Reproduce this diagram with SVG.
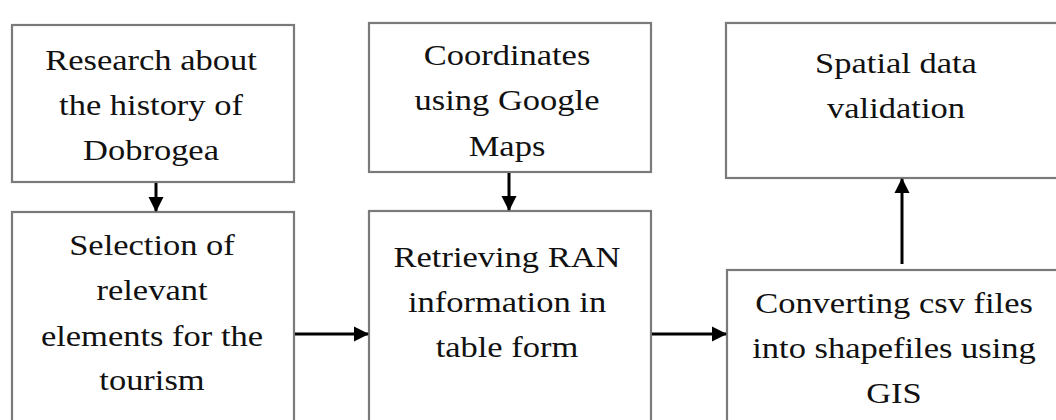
<svg xmlns="http://www.w3.org/2000/svg" width="1056" height="420" viewBox="0 0 1056 420">
<style>
.box{fill:#fff;stroke:#7a7a7a;stroke-width:2.2}
.lbl{font-family:'Liberation Serif', Tinos, 'Times New Roman', Times, 'DejaVu Serif', serif;font-size:30px;fill:#111;text-anchor:middle}
.conn{stroke:#000;stroke-width:3;fill:none}
</style>
<defs>
<marker id="ah" markerUnits="userSpaceOnUse" markerWidth="16" markerHeight="16" refX="14" refY="8" orient="auto">
<path d="M0,0.5 L15,8 L0,15.5 Z" fill="#000"/>
</marker>
</defs>
<rect width="1056" height="420" fill="#fff"/>
<g id="n1">
<rect class="box" x="12" y="25" width="282" height="157"/>
<text class="lbl" font-family="Liberation Serif, serif" transform="translate(151 70) scale(1.15 1)">Research about</text>
<text class="lbl" font-family="Liberation Serif, serif" transform="translate(151 115) scale(1.15 1)">the history of</text>
<text class="lbl" font-family="Liberation Serif, serif" transform="translate(151 160) scale(1.15 1)">Dobrogea</text>
</g>
<g id="n2">
<rect class="box" x="12" y="212" width="282" height="230"/>
<text class="lbl" transform="translate(152 255) scale(1.15 1)">Selection of</text>
<text class="lbl" transform="translate(152 300) scale(1.15 1)">relevant</text>
<text class="lbl" transform="translate(152 346) scale(1.15 1)">elements for the</text>
<text class="lbl" transform="translate(152 390) scale(1.15 1)">tourism</text>
</g>
<g id="n3">
<rect class="box" x="369" y="23" width="282" height="149"/>
<text class="lbl" transform="translate(507 65) scale(1.15 1)">Coordinates</text>
<text class="lbl" transform="translate(507 110) scale(1.15 1)">using Google</text>
<text class="lbl" transform="translate(507 156) scale(1.15 1)">Maps</text>
</g>
<g id="n4">
<rect class="box" x="369" y="211" width="282" height="230"/>
<text class="lbl" transform="translate(507 267) scale(1.15 1)">Retrieving RAN</text>
<text class="lbl" transform="translate(507 312) scale(1.15 1)">information in</text>
<text class="lbl" transform="translate(507 357) scale(1.15 1)">table form</text>
</g>
<g id="n5">
<rect class="box" x="726" y="23" width="345" height="155"/>
<text class="lbl" transform="translate(896 73) scale(1.15 1)">Spatial data</text>
<text class="lbl" transform="translate(896 118) scale(1.15 1)">validation</text>
</g>
<g id="n6">
<rect class="box" x="727" y="270" width="345" height="170"/>
<text class="lbl" transform="translate(894 313) scale(1.15 1)">Converting csv files</text>
<text class="lbl" transform="translate(894 358) scale(1.15 1)">into shapefiles using</text>
<text class="lbl" transform="translate(894 403) scale(1.15 1)">GIS</text>
</g>
<g id="connectors">
<line class="conn" x1="156" y1="183" x2="156" y2="211" marker-end="url(#ah)"/>
<line class="conn" x1="509" y1="173" x2="509" y2="210" marker-end="url(#ah)"/>
<line class="conn" x1="295" y1="334" x2="368" y2="334" marker-end="url(#ah)"/>
<line class="conn" x1="652" y1="334" x2="726" y2="334" marker-end="url(#ah)"/>
<line class="conn" x1="902" y1="264" x2="902" y2="179" marker-end="url(#ah)"/>
</g>
</svg>
